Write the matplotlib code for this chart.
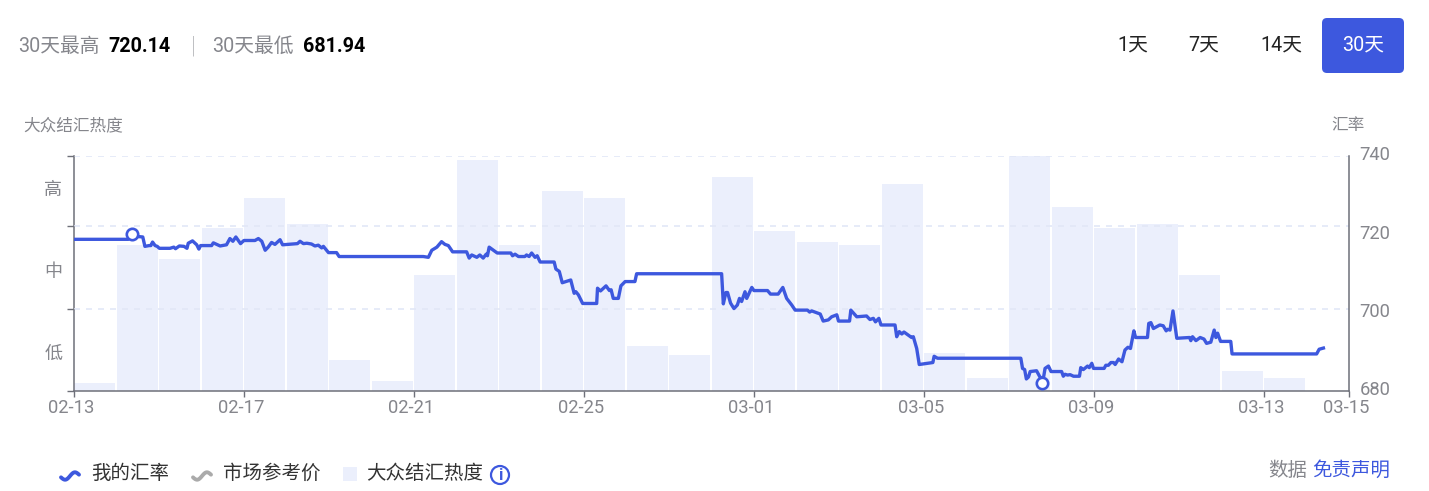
import numpy as np
import matplotlib
matplotlib.use("Agg")
import matplotlib.pyplot as plt
from matplotlib.patches import Circle, FancyBboxPatch, Rectangle
from matplotlib.transforms import ScaledTranslation

plt.rcParams["font.family"] = ["Roboto", "Noto Sans CJK SC", "DejaVu Sans"]

W, H = 1429, 491
BLUE = "#3d58de"
GREY = "#85868c"
AXIS = "#6e7079"

# -----------------------
# Data
# -----------------------
tick_days = [0, 4, 8, 12, 16, 20, 24, 28, 30]
tick_labels = ["02-13", "02-17", "02-21", "02-25", "03-01", "03-05", "03-09", "03-13", "03-15"]
rate_ticks = [740, 720, 700, 680]
heat_ticks = [0, 35, 70, 100]
heat_names = ["低", "中", "高"]
heat_name_pos = [16, 51, 86]

heat = [3.2, 62.2, 56.2, 69.2, 82.2, 71.2, 13.2, 4.3, 49.3, 98.3,
        62.2, 85.2, 82.2, 19.2, 15.2, 91.2, 68.2, 63.2, 62.2, 88.2,
        16.2, 5.4, 100, 78.3, 69.3, 71.2, 49.3, 8.3, 5.4]

rate_days = [
    0, 1.29, 1.37, 1.53, 1.63, 1.68, 1.78, 1.82, 1.86, 1.92, 1.97, 2.02, 2.27, 2.36, 2.40, 2.49,
    2.60, 2.67, 2.70, 2.80, 2.90, 2.95, 2.99, 3.25, 3.29, 3.45, 3.60, 3.68, 3.75, 3.82, 3.93, 4.01,
    4.27, 4.35, 4.43, 4.51, 4.58, 4.66, 4.74, 4.86, 4.92, 5.27, 5.33, 5.41, 5.49, 5.60, 5.68, 5.76,
    5.84, 5.88, 6.00, 6.19, 6.25, 8.23, 8.35, 8.43, 8.55, 8.66, 8.74, 8.82, 8.92, 9.25, 9.31, 9.37,
    9.49, 9.56, 9.64, 9.71, 9.74, 9.78, 9.88, 9.97, 10.29, 10.33, 10.39, 10.47, 10.62, 10.66, 10.72,
    10.78, 10.86, 10.91, 10.98, 11.31, 11.35, 11.43, 11.50, 11.70, 11.78, 11.82, 11.88, 11.98, 12.31,
    12.33, 12.40, 12.53, 12.61, 12.65, 12.70, 12.82, 12.88, 12.98, 13.21, 13.25, 15.25, 15.29, 15.35,
    15.39, 15.46, 15.54, 15.62, 15.67, 15.72, 15.80, 15.84, 15.96, 16.01, 16.33, 16.40, 16.58, 16.69,
    16.78, 16.90, 16.98, 17.27, 17.32, 17.37, 17.57, 17.64, 17.76, 17.84, 17.96, 18.00, 18.26, 18.29,
    18.43, 18.66, 18.74, 18.82, 18.87, 18.95, 19.00, 19.33, 19.37, 19.43, 19.49, 19.54, 19.72, 19.76,
    19.84, 19.90, 20.22, 20.25, 20.33, 22.29, 22.33, 22.38, 22.42, 22.47, 22.51, 22.66, 22.74, 22.82,
    22.86, 22.94, 23.00, 23.25, 23.29, 23.33, 23.39, 23.45, 23.53, 23.67, 23.70, 23.76, 23.86, 23.90,
    23.96, 24.00, 24.25, 24.29, 24.35, 24.41, 24.47, 24.51, 24.59, 24.67, 24.74, 24.81, 24.87, 24.95,
    24.99, 25.27, 25.30, 25.35, 25.41, 25.56, 25.64, 25.71, 25.74, 25.80, 25.87, 25.96, 26.26, 26.29,
    26.33, 26.41, 26.51, 26.60, 26.66, 26.76, 26.84, 26.88, 26.92, 26.99, 27.23, 27.26, 29.25, 29.31,
    29.41,
]
rate_values = [
    718.7, 718.7, 719.3, 719.4, 719.3, 716.9, 717.1, 717.1, 718.0, 717.1, 716.9, 716.4, 716.4, 716.7, 716.3, 717.0,
    716.9, 716.4, 717.7, 718.3, 717.3, 716.2, 717.1, 717.1, 717.8, 717.0, 717.3, 718.9, 718.2, 719.3, 717.6, 718.4,
    718.4, 718.9, 718.2, 715.9, 716.7, 717.9, 717.4, 718.6, 717.3, 717.6, 718.2, 717.6, 717.7, 717.5, 717.0, 717.2,
    716.5, 716.9, 715.3, 715.3, 714.3, 714.3, 714.1, 715.9, 716.7, 718.1, 717.4, 717.1, 715.5, 715.5, 713.9, 714.7,
    714.1, 714.7, 713.9, 714.9, 714.5, 716.7, 715.9, 715.2, 715.2, 714.5, 714.9, 714.3, 714.3, 714.7, 714.3,
    715.2, 714.1, 714.5, 712.9, 712.9, 711.1, 710.5, 707.6, 708.3, 704.9, 705.3, 704.5, 702.3, 702.3,
    706.2, 705.5, 706.8, 705.6, 705.8, 703.6, 703.6, 706.8, 707.9, 707.9, 709.9, 709.9, 702.2, 705.1,
    705.1, 702.4, 701.0, 701.9, 703.6, 702.8, 705.3, 703.6, 706.4, 705.6, 705.6, 704.7, 704.7, 706.4,
    703.6, 701.9, 700.6, 700.6, 700.1, 700.4, 699.6, 697.8, 698.1, 698.9, 699.4, 697.8, 697.8, 700.6,
    698.9, 699.1, 698.2, 698.5, 697.6, 698.5, 696.8, 696.8, 693.8, 695.1, 694.5, 695.0, 693.6, 693.8,
    690.8, 686.7, 687.2, 688.8, 688.3, 688.3, 685.7, 685.4, 683.0, 683.5, 684.9, 685.1, 683.5, 683.1,
    685.7, 686.3, 684.9, 684.9, 683.7, 684.2, 684.0, 684.1, 683.7, 683.7, 685.9, 685.4, 686.3, 685.9,
    687.0, 685.7, 685.7, 686.5, 686.5, 687.2, 687.2, 686.7, 688.1, 687.4, 690.4, 691.1, 690.8, 695.3,
    693.6, 693.6, 697.2, 697.4, 695.9, 696.8, 696.6, 695.3, 695.7, 695.5, 700.4, 693.4, 693.6, 692.8,
    693.8, 692.8, 693.6, 693.2, 692.1, 692.4, 695.5, 693.6, 694.7, 692.6, 692.6, 689.4, 689.4, 690.6,
    690.9,
]
extreme_days = [1.37, 22.78]
extreme_values = [720.14, 681.94]

# -----------------------
# Plot
# -----------------------
fig = plt.figure(figsize=(W / 100, H / 100), dpi=100, facecolor="white")
ax = fig.add_axes([73.5 / W, (H - 390.7) / H, 1275 / W, 234.7 / H])

ax.bar(np.arange(len(heat)) + 0.5, heat, width=0.96, color="#ebeffc", zorder=1)
ax.set_xlim(0, 30)
ax.set_ylim(0, 100)
ax.set_xticks(tick_days)
ax.set_xticklabels(tick_labels)
ax.set_yticks(heat_ticks)
ax.set_yticklabels([])
ax.yaxis.grid(True, color="#e2e7f7", linestyle=(0, (3.6, 3.6)), linewidth=1.2, zorder=2)
ax.yaxis.get_gridlines()[0].set_visible(False)
ax.set_axisbelow(False)
ax.tick_params(axis="x", length=4.5, width=1, color=AXIS, labelsize=13.2, labelcolor=GREY, pad=1.5)
ax.tick_params(axis="y", length=5, width=1, color=AXIS, direction="out")
for name in ["top", "right"]:
    ax.spines[name].set_visible(False)
for name in ["left", "bottom"]:
    ax.spines[name].set_color(AXIS)
    ax.spines[name].set_linewidth(1.1)

shift = ScaledTranslation(-2.5 / 100, 0, fig.dpi_scale_trans)
for lab in ax.get_xticklabels():
    lab.set_transform(lab.get_transform() + shift)

for name, pos in zip(heat_names, heat_name_pos):
    ax.annotate(name, (0, pos), xytext=(-14.5, -0.5), textcoords="offset points",
                ha="center", va="center", fontsize=13, color=GREY, annotation_clip=False)

ax2 = ax.twinx()
ax2.set_ylim(680, 740)
ax2.set_yticks(rate_ticks)
ax2.set_yticklabels([str(v) for v in rate_ticks])
ax2.tick_params(axis="y", length=0, labelsize=13.2, labelcolor=GREY, pad=8)
up = ScaledTranslation(0, 2.5 / 100, fig.dpi_scale_trans)
for lab in ax2.get_yticklabels():
    lab.set_transform(lab.get_transform() + up)
for name in ["top", "left", "bottom"]:
    ax2.spines[name].set_visible(False)
ax2.spines["right"].set_color(AXIS)
ax2.spines["right"].set_linewidth(1.1)

ax2.plot(rate_days, rate_values, color=BLUE, linewidth=2.4, solid_joinstyle="round", zorder=3)
ax2.plot(extreme_days, extreme_values, linestyle="none", marker="o", markersize=8.2,
         markerfacecolor="white", markeredgecolor=BLUE, markeredgewidth=1.9, zorder=4,
         clip_on=False)

# -----------------------
# Header, legend and buttons in pixel space
# -----------------------
page = fig.add_axes([0, 0, 1, 1], zorder=5)
page.set_xlim(0, W)
page.set_ylim(H, 0)
page.axis("off")


def label(x, y, text, size=14.2, color=GREY, ha="left", **kw):
    page.text(x, y + 1.5, text, fontsize=size, color=color, ha=ha, va="center", **kw)


label(18, 45, "30天最高")
label(108, 45, "720.14", color="black", fontweight="bold")
label(193, 44, "|", ha="center", color="#9a9ba0", size=17, fontweight="light")
label(212, 45, "30天最低")
label(303, 45, "681.94", color="black", fontweight="bold")

label(1133, 43, "1天", color="#222222", ha="center")
label(1204, 43, "7天", color="#222222", ha="center")
label(1281, 43, "14天", color="#222222", ha="center")
page.add_patch(FancyBboxPatch((1322, 18), 82, 55, boxstyle="round,pad=0,rounding_size=5",
                              linewidth=0, facecolor=BLUE))
label(1363, 43, "30天", color="white", ha="center")

label(23, 124, "大众结汇热度", size=12)
label(1331, 124, "汇率", size=12)


def wave(x0, color):
    xs = np.linspace(0, 18, 30)
    ys = 476 + 3 * np.sin(xs / 18 * 2 * np.pi)
    page.plot(x0 + xs, ys - (xs - 9) * 0.15, color=color, linewidth=2.8, solid_capstyle="round")


wave(61, BLUE)
label(91, 472, "我的汇率", size=14, color="#333333")
wave(193, "#aaaaaa")
label(223, 472, "市场参考价", size=14, color="#333333")
page.add_patch(Rectangle((343, 467), 14, 14, facecolor="#ebeffc", edgecolor="none"))
label(366, 472, "大众结汇热度", size=14, color="#333333")
page.add_patch(Circle((500, 475), 9, facecolor="white", edgecolor=BLUE, linewidth=1.6))
label(500, 473.5, "i", size=12, color=BLUE, ha="center", fontweight="bold")

label(1268, 469, "数据", size=14)
label(1312, 469, "免责声明", size=14, color=BLUE)

plt.savefig("out.png", dpi=100)
